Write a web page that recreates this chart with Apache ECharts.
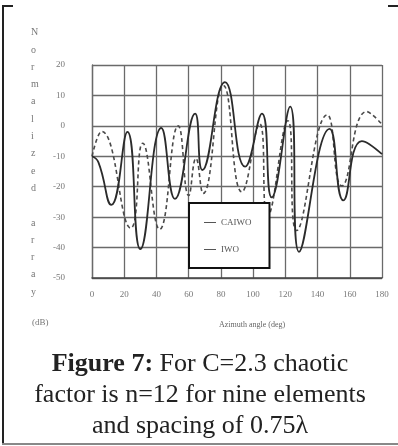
<!DOCTYPE html>
<html>
<head>
<meta charset="utf-8">
<script src="https://cdn.jsdelivr.net/npm/echarts@6/dist/echarts.min.js"></script>
<style>
  html, body { margin: 0; padding: 0; background: #fff; }
  #chart { width: 398px; height: 446px; }
</style>
</head>
<body>
<div id="chart"></div>
<script>
// azimuth angle (deg) and normalized array factor (dB)
const caiwoAngle = [0, 4, 12, 22, 30, 43, 51.5, 64, 68.5, 82.5, 95, 105.5, 111.5, 123, 128.5, 147.5, 156, 167.5, 180];
const caiwoGain = [-10, -12, -26, -2, -40.5, -0.7, -24, 4, -14.5, 14.4, -13.4, 4, -23.5, 6.3, -41.4, -1, -24.5, -5, -9.3];
const iwoAngle = [0, 6, 24, 31.5, 42, 53.5, 60, 64.5, 69, 81.5, 93, 104, 109, 121.5, 127, 146, 155, 170.5, 180];
const iwoGain = [-10, -1.8, -33.6, -5.7, -34, 0, -22.9, -10.7, -22.2, 13.3, -21.7, 0.7, -29.7, 1.7, -34.4, 3.6, -19.7, 4.7, 0.5];
const angleTicks = [0, 20, 40, 60, 80, 100, 120, 140, 160, 180];
const yName = ["N", "o", "r", "m", "a", "l", "i", "z", "e", "d", " ", "a", "r", "r", "a", "y"];

const chart = echarts.init(document.getElementById("chart"));
const serif = "'Liberation Serif', 'DejaVu Serif', serif";
const gridColor = "#6a6a6a";

chart.setOption({
  animation: false,
  backgroundColor: "#fff",
  grid: { left: 92, right: 16, top: 65, bottom: 168 },
  xAxis: {
    type: "value",
    min: 0,
    max: 180,
    interval: 20,
    axisLine: { show: true, onZero: false, lineStyle: { color: "#444", width: 1.5 } },
    axisTick: { show: false },
    splitLine: { show: true, lineStyle: { color: gridColor, width: 1.3 } },
    axisLabel: {
      color: "#777",
      fontFamily: serif,
      fontSize: 9,
      margin: 12,
      formatter: (v) => (angleTicks.includes(v) ? String(v) : ""),
    },
  },
  yAxis: {
    type: "value",
    min: -50,
    max: 20,
    interval: 10,
    axisLine: { show: true, lineStyle: { color: gridColor, width: 1.3 } },
    axisTick: { show: false },
    splitLine: { show: true, lineStyle: { color: gridColor, width: 1.3 } },
    axisLabel: { color: "#777", fontFamily: serif, fontSize: 9, margin: 27 },
  },
  legend: {
    orient: "vertical",
    left: 189,
    top: 203,
    data: ["CAIWO", "IWO"],
    backgroundColor: "#fff",
    borderColor: "#111",
    borderWidth: 2,
    borderRadius: 0,
    padding: [15, 18, 14, 15],
    itemGap: 18,
    itemWidth: 12,
    itemHeight: 8,
    icon: "path://M0,4H12V5H0Z",
    itemStyle: { color: "#555" },
    textStyle: { color: "#555", fontFamily: serif, fontSize: 9 },
  },
  series: [
    {
      name: "CAIWO",
      type: "line",
      smooth: 0.5,
      showSymbol: false,
      data: caiwoAngle.map((a, i) => [a, caiwoGain[i]]),
      lineStyle: { color: "#2b2b2b", width: 1.8 },
      itemStyle: { color: "#2b2b2b" },
      z: 3,
    },
    {
      name: "IWO",
      type: "line",
      smooth: 0.5,
      showSymbol: false,
      data: iwoAngle.map((a, i) => [a, iwoGain[i]]),
      lineStyle: { color: "#4a4a4a", width: 1.6, type: [4, 3] },
      itemStyle: { color: "#4a4a4a" },
      z: 2,
    },
  ],
  graphic: [
    // page frame remnants
    { type: "line", shape: { x1: 3, y1: 6, x2: 3, y2: 444 }, style: { stroke: "#222", lineWidth: 2 } },
    { type: "line", shape: { x1: 2, y1: 6, x2: 13, y2: 6 }, style: { stroke: "#222", lineWidth: 2 } },
    { type: "line", shape: { x1: 388, y1: 6, x2: 398, y2: 6 }, style: { stroke: "#222", lineWidth: 2 } },
    { type: "line", shape: { x1: 2, y1: 444, x2: 398, y2: 444 }, style: { stroke: "#888", lineWidth: 2 } },
    {
      type: "text",
      left: 31,
      top: 24,
      style: {
        text: yName.join("\n"),
        fill: "#777",
        font: "10px " + serif,
        lineHeight: 17.3,
        align: "center",
      },
    },
    {
      type: "text",
      left: 32,
      top: 318,
      style: { text: "(dB)", fill: "#777", font: "9px " + serif },
    },
    {
      type: "text",
      left: 219,
      top: 321,
      style: { text: "Azimuth angle (deg)", fill: "#666", font: "8px " + serif },
    },
    {
      type: "text",
      x: 200,
      y: 349,
      style: {
        text: "{b|Figure 7:} For C=2.3 chaotic\nfactor is n=12 for nine elements\nand spacing of 0.75λ",
        fill: "#222",
        font: "26px " + serif,
        lineHeight: 31,
        align: "center",
        verticalAlign: "top",
        rich: {
          b: { fontWeight: "bold", fontFamily: serif, fontSize: 26, fill: "#222" },
        },
      },
    },
  ],
});
</script>
</body>
</html>
